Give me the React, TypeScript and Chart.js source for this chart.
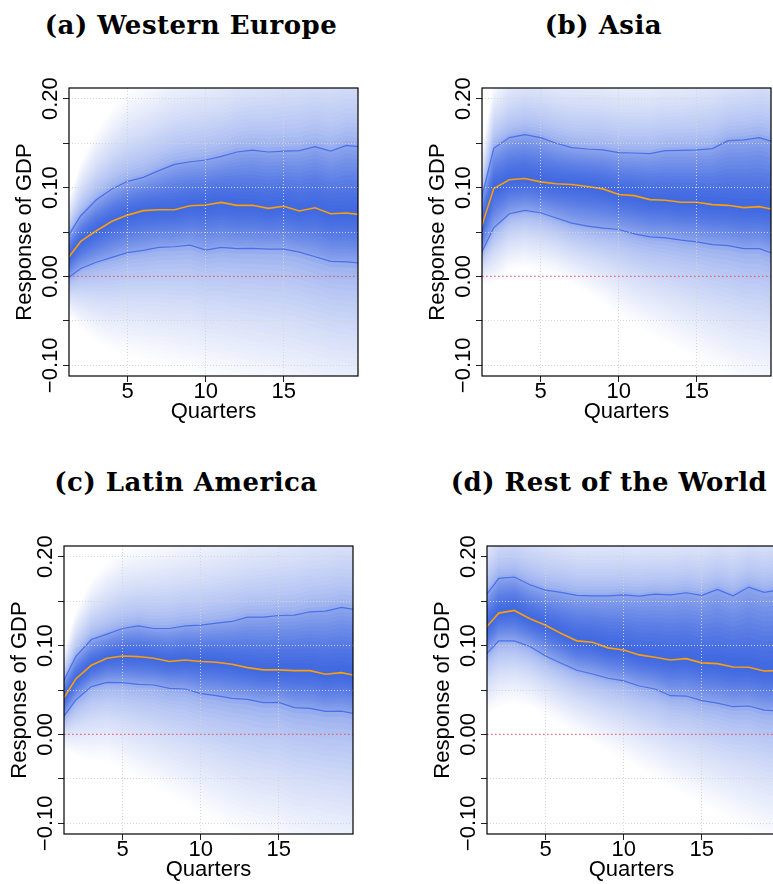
import React, { useEffect, useRef } from 'react';
import { Chart, registerables } from 'chart.js';

Chart.register(...registerables);

// ---------------- data ----------------
const quarters = [1, 2, 3, 4, 5, 6, 7, 8, 9, 10, 11, 12, 13, 14, 15, 16, 17, 18, 19, 20];
const xTickValues = [5, 10, 15];
const yTickValues = [-0.1, -0.05, 0, 0.05, 0.1, 0.15, 0.2];
const yLabelValues = [-0.1, 0, 0.1, 0.2];
const yLabelTexts = ['\u22120.10', '0.00', '0.10', '0.20'];
const zeroLevel = 0;

const panelTitles = ['(a) Western Europe', '(b) Asia', '(c) Latin America', '(d) Rest of the World'];

// (a) Western Europe
const medianA = [0.0162, 0.0394, 0.0514, 0.062, 0.069, 0.074, 0.075, 0.075, 0.0796, 0.0803, 0.0833, 0.080, 0.080, 0.0766, 0.079, 0.0736, 0.0773, 0.0706, 0.0713, 0.0694];
const upperA = [0.0401, 0.0683, 0.0863, 0.0983, 0.107, 0.1115, 0.119, 0.126, 0.129, 0.131, 0.135, 0.140, 0.142, 0.140, 0.141, 0.1415, 0.146, 0.141, 0.1475, 0.1455];
const lowerA = [-0.0043, 0.009, 0.016, 0.0214, 0.0267, 0.0293, 0.0327, 0.0334, 0.0353, 0.0297, 0.0327, 0.0312, 0.0315, 0.0308, 0.0308, 0.0274, 0.0221, 0.0169, 0.0165, 0.015];
const outerUpperA = [0.075, 0.13, 0.165, 0.19, 0.21, 0.22, 0.23, 0.24, 0.245, 0.25, 0.255, 0.265, 0.27, 0.275, 0.28, 0.285, 0.29, 0.29, 0.295, 0.295];
const outerLowerA = [-0.04, -0.06, -0.075, -0.085, -0.09, -0.095, -0.1, -0.105, -0.11, -0.115, -0.12, -0.125, -0.13, -0.135, -0.14, -0.145, -0.15, -0.155, -0.16, -0.165];

// (b) Asia
const medianB = [0.0436, 0.0989, 0.1087, 0.1102, 0.1064, 0.1042, 0.1034, 0.1011, 0.0985, 0.0921, 0.0909, 0.0864, 0.0857, 0.0834, 0.0834, 0.0808, 0.080, 0.0774, 0.0785, 0.075];
const upperB = [0.072, 0.1442, 0.1562, 0.1596, 0.1562, 0.1498, 0.1449, 0.1434, 0.1423, 0.1392, 0.1389, 0.1381, 0.1415, 0.1419, 0.1423, 0.1438, 0.1528, 0.1536, 0.1562, 0.151];
const lowerB = [0.019, 0.0547, 0.0706, 0.0743, 0.0717, 0.0657, 0.060, 0.0566, 0.0543, 0.0528, 0.0479, 0.0445, 0.0434, 0.0408, 0.0389, 0.0358, 0.0347, 0.0313, 0.0313, 0.025];
const outerUpperB = [0.12, 0.22, 0.245, 0.255, 0.255, 0.25, 0.25, 0.25, 0.25, 0.245, 0.245, 0.245, 0.25, 0.25, 0.255, 0.26, 0.265, 0.27, 0.275, 0.275];
const outerLowerB = [-0.01, -0.01, 0.005, 0.01, 0.005, 0.0, -0.01, -0.02, -0.03, -0.045, -0.055, -0.065, -0.075, -0.085, -0.095, -0.105, -0.115, -0.125, -0.13, -0.135];

// (c) Latin America
const medianC = [0.0344, 0.0624, 0.0778, 0.0857, 0.0883, 0.0876, 0.0857, 0.082, 0.0838, 0.082, 0.0812, 0.0789, 0.0752, 0.0726, 0.0726, 0.0718, 0.0718, 0.0677, 0.0695, 0.066];
const upperC = [0.052, 0.0876, 0.1068, 0.1128, 0.1192, 0.1222, 0.1192, 0.1192, 0.1222, 0.1229, 0.1252, 0.1271, 0.132, 0.132, 0.1338, 0.1342, 0.138, 0.1387, 0.1429, 0.1405];
const lowerC = [0.0149, 0.0387, 0.0538, 0.0586, 0.0583, 0.0564, 0.0556, 0.0519, 0.0511, 0.0459, 0.0436, 0.0406, 0.0395, 0.0357, 0.0361, 0.0301, 0.0293, 0.0259, 0.0263, 0.023];
const outerUpperC = [0.08, 0.14, 0.175, 0.195, 0.21, 0.215, 0.22, 0.225, 0.23, 0.235, 0.24, 0.245, 0.25, 0.255, 0.26, 0.265, 0.27, 0.275, 0.28, 0.28];
const outerLowerC = [-0.015, -0.025, -0.03, -0.03, -0.04, -0.05, -0.06, -0.07, -0.08, -0.09, -0.1, -0.11, -0.12, -0.125, -0.13, -0.14, -0.145, -0.15, -0.155, -0.16];

// (d) Rest of the World
const medianD = [0.1166, 0.1365, 0.1395, 0.1301, 0.1229, 0.1135, 0.1053, 0.1038, 0.0974, 0.0951, 0.0895, 0.0868, 0.0838, 0.0853, 0.0805, 0.0797, 0.0759, 0.0756, 0.0714, 0.072];
const upperD = [0.152, 0.1756, 0.1771, 0.1684, 0.1624, 0.1598, 0.1564, 0.156, 0.156, 0.1571, 0.1556, 0.1579, 0.1571, 0.1594, 0.1564, 0.1632, 0.156, 0.1658, 0.1598, 0.163];
const lowerD = [0.0864, 0.1053, 0.1053, 0.0989, 0.0883, 0.0801, 0.0722, 0.068, 0.0632, 0.0602, 0.0545, 0.0511, 0.0436, 0.0432, 0.038, 0.0353, 0.0312, 0.032, 0.0274, 0.026];
const outerUpperD = [0.24, 0.265, 0.27, 0.265, 0.26, 0.255, 0.25, 0.25, 0.25, 0.25, 0.25, 0.25, 0.25, 0.255, 0.255, 0.26, 0.26, 0.265, 0.265, 0.27];
const outerLowerD = [0.02, 0.03, 0.035, 0.03, 0.02, 0.01, 0.0, -0.01, -0.02, -0.03, -0.04, -0.05, -0.06, -0.07, -0.08, -0.09, -0.1, -0.11, -0.12, -0.125];

// ---------------- layout / style ----------------
const SANS = '"Liberation Sans", Arial, Helvetica, sans-serif';
const SERIF = '"DejaVu Serif", serif';
const X_MIN = 1.25;
const X_MAX = 19.75;
const Y_MIN = -0.112;
const Y_MAX = 0.212;
const BOX_W = 289;
const BOX_H = 288;
const Y_AXIS_W = 70;
const X_AXIS_H = 52;
const PAD_T = 30;
const PAD_R = 4;
const CANVAS_W = Y_AXIS_W + BOX_W + PAD_R;
const CANVAS_H = PAD_T + BOX_H + X_AXIS_H;
const NI = 16;
const NO = 28;
const GRID_COLOR = 'rgba(212,212,212,0.95)';

type PanelCfg = {
  title: string;
  median: number[];
  upper: number[];
  lower: number[];
  outerUpper: number[];
  outerLower: number[];
  boxLeft: number;
  boxTop: number;
  titleCenter: number;
  titleTop: number;
};

const panels: PanelCfg[] = [
  { title: panelTitles[0], median: medianA, upper: upperA, lower: lowerA, outerUpper: outerUpperA, outerLower: outerLowerA, boxLeft: 69, boxTop: 88, titleCenter: 191, titleTop: 12 },
  { title: panelTitles[1], median: medianB, upper: upperB, lower: lowerB, outerUpper: outerUpperB, outerLower: outerLowerB, boxLeft: 482, boxTop: 88, titleCenter: 603.5, titleTop: 12 },
  { title: panelTitles[2], median: medianC, upper: upperC, lower: lowerC, outerUpper: outerUpperC, outerLower: outerLowerC, boxLeft: 64, boxTop: 546, titleCenter: 186, titleTop: 469 },
  { title: panelTitles[3], median: medianD, upper: upperD, lower: lowerD, outerUpper: outerUpperD, outerLower: outerLowerD, boxLeft: 487, boxTop: 546, titleCenter: 609, titleTop: 469 },
];

function mix(a: number[], b: number[], t: number): number[] {
  return a.map((v, i) => v + (b[i] - v) * t);
}

function pts(arr: number[]) {
  return arr.map((y, i) => ({ x: quarters[i], y }));
}

function fanColor(s: number): string {
  const w = s < 0.5
    ? 0.4 * Math.pow(2 * s, 1.45)
    : 0.4 + 0.6 * Math.pow((s - 0.5) / 0.5, 0.62);
  const r = Math.round(65 + (255 - 65) * w);
  const g = Math.round(105 + (255 - 105) * w);
  const b = Math.round(225 + (255 - 225) * w);
  return `rgb(${r},${g},${b})`;
}

function buildDatasets(p: PanelCfg) {
  const ds: any[] = [];
  const hidden = { borderWidth: 0, borderColor: 'transparent', pointRadius: 0, pointHitRadius: 0, tension: 0, clip: 0 };
  ds.push({ data: pts(p.median), borderColor: 'rgb(250,158,10)', borderWidth: 1.6, pointRadius: 0, fill: false, order: 0, clip: 0, tension: 0 });
  ds.push({ data: pts(p.upper), borderColor: 'rgb(72,112,232)', borderWidth: 1.2, pointRadius: 0, fill: false, order: 1, clip: 0, tension: 0 });
  ds.push({ data: pts(p.lower), borderColor: 'rgb(72,112,232)', borderWidth: 1.2, pointRadius: 0, fill: false, order: 1, clip: 0, tension: 0 });
  ds.push({
    data: [{ x: quarters[0], y: zeroLevel }, { x: quarters[quarters.length - 1], y: zeroLevel }],
    borderColor: 'rgba(232,80,90,0.85)', borderWidth: 1.3, borderDash: [1.5, 2.5], pointRadius: 0, fill: false, order: 2, clip: 0,
  });
  const up: number[][] = [];
  const dn: number[][] = [];
  for (let k = 1; k <= NI; k++) {
    up.push(mix(p.median, p.upper, k / NI));
    dn.push(mix(p.median, p.lower, k / NI));
  }
  for (let k = 1; k <= NO; k++) {
    up.push(mix(p.upper, p.outerUpper, k / NO));
    dn.push(mix(p.lower, p.outerLower, k / NO));
  }
  for (let k = 0; k < up.length; k++) {
    const s = k < NI ? 0.5 * (k + 0.5) / NI : 0.5 + 0.5 * (k - NI + 0.5) / NO;
    const dnIndex = ds.length;
    ds.push({ ...hidden, data: pts(dn[k]), fill: false, order: 10 + k });
    ds.push({ ...hidden, data: pts(up[k]), fill: dnIndex, backgroundColor: fanColor(s), order: 10 + k });
  }
  return ds;
}

const frameAndLabels = {
  id: 'frameAndLabels',
  afterDraw(chart: any) {
    const { ctx, chartArea } = chart;
    const yScale = chart.scales.y;
    ctx.save();
    ctx.fillStyle = '#000';
    ctx.font = `22px ${SANS}`;
    ctx.textAlign = 'center';
    ctx.textBaseline = 'alphabetic';
    yLabelValues.forEach((v, i) => {
      const py = yScale.getPixelForValue(v);
      ctx.save();
      ctx.translate(chartArea.left - 12.3, py);
      ctx.rotate(-Math.PI / 2);
      ctx.fillText(yLabelTexts[i], 0, 0);
      ctx.restore();
    });
    ctx.strokeStyle = '#000';
    ctx.lineWidth = 1.2;
    ctx.strokeRect(chartArea.left, chartArea.top, chartArea.right - chartArea.left, chartArea.bottom - chartArea.top);
    ctx.restore();
  },
};

function FanPanel({ cfg }: { cfg: PanelCfg }) {
  const ref = useRef<HTMLCanvasElement | null>(null);
  useEffect(() => {
    if (!ref.current) return;
    const chart = new Chart(ref.current, {
      type: 'line',
      data: { datasets: buildDatasets(cfg) },
      options: {
        animation: false,
        responsive: false,
        maintainAspectRatio: false,
        events: [],
        layout: { padding: { top: PAD_T, right: PAD_R, left: 0, bottom: 0 } },
        plugins: { legend: { display: false }, tooltip: { enabled: false }, title: { display: false } },
        scales: {
          x: {
            type: 'linear',
            min: X_MIN,
            max: X_MAX,
            afterBuildTicks: (s: any) => { s.ticks = xTickValues.map((v) => ({ value: v })); },
            afterFit: (s: any) => { s.height = X_AXIS_H; },
            grid: { z: 1, color: GRID_COLOR, lineWidth: 1, drawTicks: true, tickLength: 6, tickColor: '#222', tickWidth: 1 },
            border: { display: false, dash: [1, 2] },
            ticks: { color: '#000', font: { family: SANS, size: 22 }, padding: -3, maxRotation: 0, minRotation: 0, autoSkip: false, callback: (v: any) => String(v) },
            title: { display: true, text: 'Quarters', color: '#000', font: { family: SANS, size: 22 }, padding: { top: 0, bottom: 3 } },
          },
          y: {
            type: 'linear',
            min: Y_MIN,
            max: Y_MAX,
            afterBuildTicks: (s: any) => { s.ticks = yTickValues.map((v) => ({ value: v })); },
            afterFit: (s: any) => { s.width = Y_AXIS_W; },
            grid: {
              z: 1,
              color: (c: any) => (c.tick && Math.abs(c.tick.value) < 1e-9 ? 'rgba(0,0,0,0)' : GRID_COLOR),
              lineWidth: 1, drawTicks: true, tickLength: 6, tickColor: '#222', tickWidth: 1,
            },
            border: { display: false, dash: [1, 2] },
            ticks: { display: false },
            title: { display: true, text: 'Response of GDP', color: '#000', font: { family: SANS, size: 22 }, padding: { top: 12.7, bottom: 0 } },
          },
        },
      } as any,
      plugins: [frameAndLabels],
    });
    return () => chart.destroy();
  }, [cfg]);
  return (
    <canvas
      ref={ref}
      width={CANVAS_W}
      height={CANVAS_H}
      style={{ position: 'absolute', left: cfg.boxLeft - Y_AXIS_W, top: cfg.boxTop - PAD_T, width: CANVAS_W, height: CANVAS_H }}
    />
  );
}

export default function App() {
  return (
    <div style={{ position: 'fixed', left: 0, top: 0, width: 773, height: 884, overflow: 'hidden', background: '#fff' }}>
      {panels.map((p) => (
        <React.Fragment key={p.title}>
          <FanPanel cfg={p} />
          <div
            style={{
              position: 'absolute', left: p.titleCenter, top: p.titleTop, transform: 'translateX(-50%)',
              whiteSpace: 'nowrap', fontFamily: SERIF, fontWeight: 'bold', fontSize: 26, lineHeight: '26px',
              letterSpacing: '0.5px', color: '#000',
            }}
          >
            {p.title}
          </div>
        </React.Fragment>
      ))}
    </div>
  );
}
